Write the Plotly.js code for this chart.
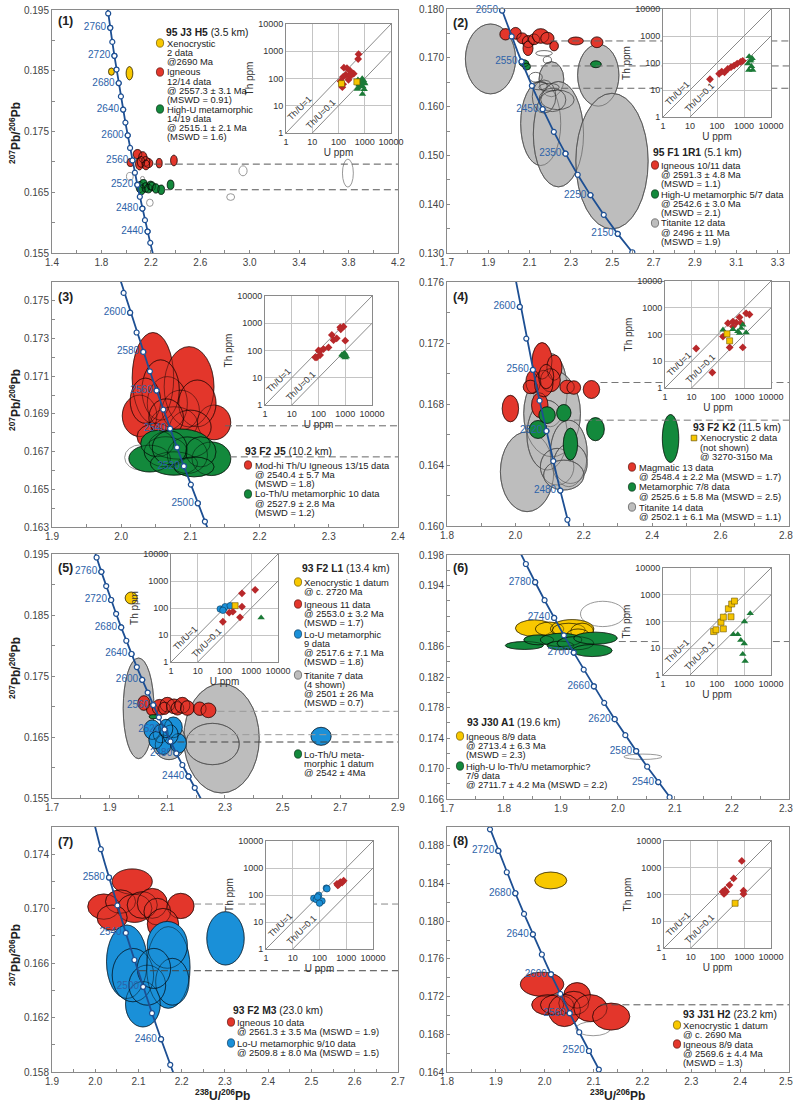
<!DOCTYPE html>
<html>
<head>
<meta charset="utf-8">
<script src="https://cdn.plot.ly/plotly-3.0.1.min.js"></script>
<style>
html,body{margin:0;padding:0;background:#fff;}
#chart{width:794px;height:1103px;}
</style>
</head>
<body>
<div id="chart"></div>
<script>
// ===================== DATA =====================
// Concordia reference points: age (Ma), 238U/206Pb, 207Pb/206Pb
const concAge = [2100,2150,2200,2250,2300,2350,2400,2420,2440,2450,2460,2480,2490,2500,2510,2520,2530,2540,2550,2560,2570,2580,2590,2600,2610,2620,2640,2650,2660,2680,2700,2720,2740,2760,2780,2800,2820];
const concX = [2.5968,2.5261,2.4586,2.3941,2.3325,2.2735,2.2170,2.1951,2.1734,2.1628,2.1522,2.1313,2.1210,2.1108,2.1007,2.0906,2.0807,2.0707,2.0609,2.0512,2.0415,2.0319,2.0223,2.0129,2.0035,1.9942,1.9758,1.9668,1.9577,1.9399,1.9224,1.9051,1.8880,1.8712,1.8547,1.8384,1.8223];
const concY = [0.13015,0.13392,0.13782,0.14186,0.14603,0.15036,0.15483,0.15667,0.15853,0.15947,0.16041,0.16232,0.16329,0.16426,0.16525,0.16623,0.16722,0.16822,0.16923,0.17024,0.17126,0.17229,0.17332,0.17437,0.17542,0.17647,0.17861,0.17969,0.18078,0.18297,0.18520,0.18746,0.18975,0.19207,0.19443,0.19682,0.19924];

// Analyses: [238U/206Pb, 207Pb/206Pb, error half-axis in x, error half-axis in y]
// Panel 1 - 95 J3 H5
const p1Xeno = [[1.881,0.18486,0.024,0.0006],[2.027,0.18459,0.027,0.0011]];
const p1Ign = [[2.035,0.16990,0.027,0.00066],[2.092,0.17127,0.035,0.00077],[2.135,0.17078,0.033,0.0009],[2.108,0.16968,0.032,0.001],[2.181,0.16979,0.035,0.00075],[2.157,0.17007,0.035,0.0008],[2.12,0.1700,0.03,0.0009],[2.16,0.1695,0.03,0.0008],[2.2676,0.16979,0.024,0.00077],[2.3865,0.17023,0.027,0.00088]];
const p1Met = [[2.1108,0.16585,0.03,0.00093],[2.14,0.16640,0.03,0.0007],[2.125,0.16540,0.03,0.0008],[2.157,0.16579,0.027,0.00077],[2.18,0.16560,0.03,0.0007],[2.197,0.16612,0.027,0.0007],[2.21,0.16600,0.027,0.0007],[2.2405,0.16563,0.03,0.00077],[2.2838,0.16541,0.027,0.00077],[2.3595,0.16623,0.027,0.00077]];
const p1Open = [[2.0297,0.16760,0.027,0.00066],[2.1324,0.16727,0.016,0.00033],[2.1919,0.16327,0.027,0.0006],[2.9459,0.16853,0.033,0.00082],[2.8459,0.16421,0.032,0.00055],[3.7946,0.16815,0.044,0.0023]];
const p1Means = [[2.224,0.16963],[2.305,0.16541]];
// Panel 2 - 95 F1 1R1
const p2Tit = [[1.9105,0.16977,0.1215,0.00716],[2.2053,0.16561,0.060,0.0036],[2.432,0.16643,0.100,0.00634],[2.1534,0.15653,0.097,0.0086],[2.2393,0.15435,0.1215,0.0108],[2.4984,0.14883,0.175,0.0139]];
const p2Open = [[2.1696,0.17093,0.04,0.00055],[2.1291,0.16602,0.032,0.001],[2.1453,0.16424,0.04,0.0008],[2.1939,0.16397,0.049,0.0008],[2.2101,0.16138,0.065,0.0024],[2.1696,0.16206,0.057,0.0034],[2.2344,0.16138,0.081,0.002],[2.1858,0.16956,0.02,0.0007]];
const p2Ign = [[1.9834,0.17482,0.0275,0.00116],[2.032,0.17502,0.027,0.0012],[2.0644,0.17400,0.027,0.0011],[2.0935,0.17332,0.029,0.00123],[2.0919,0.17195,0.024,0.0015],[2.121,0.17379,0.027,0.0011],[2.1534,0.17447,0.040,0.0015],[2.1858,0.17400,0.032,0.00123],[2.2182,0.17243,0.021,0.001],[2.3235,0.17345,0.037,0.0008],[2.4255,0.17318,0.029,0.0011]];
const p2Met = [[2.0725,0.16888,0.023,0.0007],[2.0854,0.1682,0.019,0.0007],[2.4206,0.16868,0.026,0.0007]];
const p2Means = [[2.2,0.17345],[2.1,0.16833],[2.2,0.16376]];
// Panel 3 - 93 F2 J5
const p3Ign = [[2.0459,0.17091,0.030,0.00241],[2.0981,0.17044,0.036,0.00213],[2.0266,0.16890,0.025,0.0011],[2.1343,0.16855,0.024,0.00092],[2.0667,0.16956,0.029,0.00142],[2.086,0.16920,0.027,0.00106],[2.0763,0.16849,0.034,0.00089],[2.0498,0.16779,0.027,0.00071],[2.057,0.17027,0.027,0.0016],[2.1101,0.16956,0.027,0.00124],[2.035,0.1697,0.022,0.0012],[2.1,0.1683,0.03,0.0009],[2.065,0.1688,0.025,0.001]];
const p3Open = [[2.028,0.16669,0.023,0.00067]];
const p3Met = [[2.0411,0.16663,0.030,0.00071],[2.1304,0.16662,0.028,0.00089],[2.0845,0.16740,0.044,0.0008],[2.0643,0.16699,0.031,0.0008],[2.0957,0.16681,0.029,0.00097],[2.0763,0.16637,0.034,0.00062],[2.115,0.16699,0.022,0.0008],[2.0522,0.16743,0.024,0.0007],[2.1053,0.16619,0.029,0.00053],[2.07,0.1672,0.025,0.0009]];
const p3Means = [[2.15,0.16837],[2.157,0.16672]];
// Panel 4 - 93 F2 K2
const p4Tit = [[2.1024,0.16891,0.049,0.0024],[2.0341,0.16356,0.078,0.00262],[2.1073,0.16738,0.083,0.00284],[2.0927,0.16596,0.059,0.00229],[2.1561,0.16476,0.054,0.00218],[2.122,0.16389,0.049,0.0012],[2.161,0.16410,0.049,0.00131],[2.1415,0.16334,0.059,0.00098]];
const p4Ign = [[2.078,0.17083,0.029,0.0012],[2.1141,0.17039,0.022,0.00083],[2.0517,0.16945,0.021,0.00076],[2.1024,0.16956,0.029,0.00076],[2.0439,0.16912,0.021,0.00044],[2.1512,0.16912,0.021,0.00044],[2.1707,0.16908,0.02,0.00044],[2.2224,0.16895,0.024,0.00059],[1.9854,0.1677,0.024,0.00087],[2.0712,0.16792,0.024,0.00081],[2.0829,0.16934,0.027,0.00087],[2.09,0.1698,0.022,0.0008]];
const p4Met = [[2.0663,0.16633,0.026,0.00059],[2.0927,0.16727,0.024,0.00055],[2.1415,0.16742,0.021,0.00055],[2.2341,0.16635,0.026,0.00076],[2.161,0.16537,0.021,0.00105],[2.4537,0.16574,0.024,0.00157]];
const p4Means = [[2.2488,0.16941],[2.1707,0.16694]];
// Panel 5 - 93 F2 L1
const p5Tit = [[2.0003,0.1697,0.0533,0.00825],[2.2878,0.16478,0.131,0.00896],[2.2565,0.16385,0.093,0.00339],[2.1058,0.16429,0.058,0.003]];
const p5Xeno = [[1.9748,0.18779,0.021,0.00098]];
const p5Ign = [[2.0188,0.17057,0.021,0.0012],[2.0478,0.16948,0.02,0.001],[2.0733,0.16986,0.026,0.0013],[2.1,0.1703,0.025,0.0012],[2.09,0.1697,0.02,0.001],[2.1232,0.17003,0.026,0.0012],[2.135,0.1697,0.022,0.0011],[2.1522,0.1702,0.026,0.0013],[2.1696,0.16975,0.024,0.0012],[2.2125,0.16964,0.022,0.0011],[2.2426,0.16937,0.026,0.0012]];
const p5LoU = [[2.0478,0.16620,0.029,0.0016],[2.1209,0.16658,0.031,0.0017],[2.0768,0.16555,0.026,0.0015],[2.0861,0.16374,0.028,0.0016],[2.1383,0.16396,0.028,0.0016],[2.1116,0.16538,0.026,0.0016],[2.095,0.1664,0.024,0.0015],[2.06,0.1645,0.024,0.0014],[2.6333,0.16511,0.035,0.00148]];
const p5Met = [[2.0513,0.16833,0.014,0.00033]];
const p5Means = [[2.274,0.16921],[2.1696,0.16538],[2.1348,0.16418]];
// Panel 6 - 93 J30 A1
const p6Open = [[1.9734,0.19027,0.0392,0.00166],[2.0437,0.17154,0.0334,0.00035]];
const p6Ign = [[1.8534,0.18840,0.0334,0.00109],[1.88,0.1883,0.025,0.0009],[1.9196,0.18831,0.038,0.00122],[1.9137,0.18818,0.029,0.00087],[1.9371,0.18796,0.02,0.0011],[1.93,0.1875,0.02,0.0008],[1.9225,0.18665,0.0117,0.00044]];
const p6Met = [[1.8358,0.18613,0.0334,0.00052],[1.861,0.18687,0.0263,0.00065],[1.9002,0.18687,0.0363,0.00087],[1.8991,0.18613,0.0234,0.00057],[1.9254,0.18643,0.0322,0.00087],[1.9605,0.18709,0.038,0.00079],[1.9547,0.18547,0.0351,0.00079]];
const p6Means = [[2.0015,0.18665]];
// Panel 7 - 93 F2 M3
const p7Ign = [[2.0855,0.17199,0.0464,0.00093],[2.0198,0.17015,0.0371,0.00093],[2.0585,0.17052,0.0348,0.00086],[2.0909,0.17002,0.0402,0.00103],[2.1087,0.17027,0.0348,0.00098],[2.1319,0.17039,0.0348,0.0011],[2.1976,0.17020,0.0309,0.00093],[2.0391,0.16934,0.0348,0.00093],[2.1435,0.16978,0.0309,0.00098],[2.1566,0.16887,0.0363,0.00115]];
const p7LoU = [[2.0731,0.16610,0.0471,0.0027],[2.169,0.16568,0.0502,0.003],[2.1102,0.16298,0.0402,0.00167],[2.0871,0.16512,0.0479,0.00196],[2.1667,0.16734,0.0464,0.00172],[2.1783,0.16463,0.0386,0.00172],[2.1203,0.16438,0.0425,0.00147],[2.1357,0.16561,0.0386,0.00147],[2.3012,0.16782,0.0433,0.00196]];
const p7Means = [[2.2285,0.17034],[2.101,0.16544]];
// Panel 8 - 93 J31 H2
const p8Open = [[2.0991,0.16860,0.0355,0.00075]];
const p8Xeno = [[2.0124,0.18433,0.0328,0.00089]];
const p8Ign = [[1.9946,0.17331,0.0444,0.00128],[2.0663,0.17213,0.0273,0.00136],[2.0062,0.17113,0.0328,0.00107],[2.0254,0.17113,0.0341,0.00107],[2.0595,0.17131,0.0307,0.00125],[2.0404,0.17053,0.0328,0.00171],[2.0937,0.17078,0.0341,0.00143],[2.136,0.16988,0.0382,0.00143]];
const p8Means = [[2.1141,0.17113]];

// Inset Th vs U (ppm)
const p1InsIgU = [580,560,160,210,280,380,250,190,150,240,150,140,300,120];
const p1InsIgTh = [780,520,250,240,190,150,135,135,115,90,62,48,130,80];
const p1InsXeU = [130,500];
const p1InsXeTh = [65,75];
const p1InsMetU = [550,650,800,900,700,600,950,750,850,1000,550,950,815,520];
const p1InsMetTh = [90,80,100,85,70,60,70,55,50,65,45,40,27,41];
const p2InsIgU = [55,120,150,190,250,330,430,560,750,900];
const p2InsIgTh = [25,40,48,45,60,70,80,95,110,120];
const p2InsMetU = [1550,2000,1400,1900,1500,2100,1700,1800];
const p2InsMetTh = [175,150,95,75,55,55,120,130];
const p3InsIgU = [650,860,680,1000,316,365,480,237,154,115,115,87,100,75];
const p3InsIgTh = [708,750,600,230,370,240,280,130,113,95,68,56,100,56];
const p3InsMetU = [750,850,900,1000,950,800,1100,1000];
const p3InsMetTh = [70,75,60,55,80,65,60,70];
const p4InsIgU = [15,61,154,237,366,490,650,750,1540,1150,275,860,366];
const p4InsIgTh = [30,3.8,84,265,305,280,440,265,560,620,33,33,200];
const p4InsMetU = [154,366,750,860,560,650,1150];
const p4InsMetTh = [150,157,172,230,130,112,118];
const p4InsXeU = [218,275];
const p4InsXeTh = [106,58];
const p5InsLoU = [69,92,106,163,87];
const p5InsLoTh = [92,92,112,122,82];
const p5InsXeU = [250];
const p5InsXeTh = [122];
const p5InsIgU = [150,205,87,450,450,380,1400];
const p5InsIgTh = [67,73,31,350,112,45,470];
const p5InsMetU = [2340];
const p5InsMetTh = [44];
const p6InsIgU = [75,92,141,172,172,330,264,350,443];
const p6InsIgTh = [42,49,94,145,53,150,300,450,580];
const p6InsMetU = [405,590,760,1020,900,1100,1040,1700];
const p6InsMetTh = [33,33,20,15,6,3.3,100,200];
const p7InsLoU = [61,76,93,114,124,100,180,190,85];
const p7InsLoTh = [75,68,98,59,60,50,180,170,85];
const p7InsIgU = [450,520,600,700,800,480];
const p7InsIgTh = [260,240,300,290,340,230];
const p8InsIgU = [810,400,280,190,155,175,935,935,210];
const p8InsIgTh = [1800,400,225,147,127,105,138,105,127];
const p8InsXeU = [455];
const p8InsXeTh = [47];

// Legend texts
const sampleNames = [['95 J3 H5','(3.5 km)'],['95 F1 1R1','(5.1 km)'],['93 F2 J5','(10.2 km)'],['93 F2 K2','(11.5 km)'],['93 F2 L1','(13.4 km)'],['93 J30 A1','(19.6 km)'],['93 F2 M3','(23.0 km)'],['93 J31 H2','(23.2 km)']];
const legendItems = [
  [['yellow',['Xenocrystic','2 data','@2690 Ma']],['red',['Igneous','12/14 data','@ 2557.3 ± 3.1 Ma','(MSWD = 0.91)']],['green',['High-U metamorphic','14/19 data','@ 2515.1 ± 2.1 Ma','(MSWD = 1.6)']]],
  [['red',['Igneous 10/11 data','@ 2591.3 ± 4.8 Ma','(MSWD = 1.1)']],['green',['High-U metamorphic 5/7 data','@ 2542.6 ± 3.0 Ma','(MSWD = 2.1)']],['gray',['Titanite 12 data','@ 2496 ± 11 Ma','(MSWD = 1.9)']]],
  [['red',['Mod-hi Th/U Igneous 13/15 data','@ 2540.4 ± 5.7 Ma','(MSWD = 1.8)']],['green',['Lo-Th/U metamorphic 10 data','@ 2527.9 ± 2.8 Ma','(MSWD = 1.2)']]],
  [['yellowSq',['Xenocrystic 2 data','(not shown)','@ 3270-3150 Ma']],['red',['Magmatic 13 data','@ 2548.4 ± 2.2 Ma (MSWD = 1.7)']],['green',['Metamorphic 7/8 data','@ 2525.6 ± 5.8 Ma (MSWD = 2.5)']],['gray',['Titanite 14 data','@ 2502.1 ± 6.1 Ma (MSWD = 1.1)']]],
  [['yellow',['Xenocrystic 1 datum','@ c. 2720 Ma']],['red',['Igneous 11 data','@ 2553.0 ± 3.2 Ma','(MSWD = 1.7)']],['blue',['Lo-U metamorphic','9 data','@ 2517.6 ± 7.1 Ma','(MSWD = 1.8)']],['gray',['Titanite 7 data','(4 shown)','@ 2501 ± 26 Ma','(MSWD = 0.7)']],['green',['Lo-Th/U meta-','morphic 1 datum','@ 2542 ± 4Ma']]],
  [['yellow',['Igneous 8/9 data','@ 2713.4 ± 6.3 Ma','(MSWD = 2.3)']],['green',['High-U lo-Th/U metamorphic?','7/9 data','@ 2711.7 ± 4.2 Ma (MSWD = 2.2)']]],
  [['red',['Igneous 10 data','@ 2561.3 ± 3.5 Ma (MSWD = 1.9)']],['blue',['Lo-U metamorphic 9/10 data','@ 2509.8 ± 8.0 Ma (MSWD = 1.5)']]],
  [['yellow',['Xenocrystic 1 datum','@ c. 2690 Ma']],['red',['Igneous 8/9 data','@ 2569.6 ± 4.4 Ma','(MSWD = 1.3)']]]
];

// ===================== STYLE / LAYOUT =====================
const W = 794, H = 1103;
const FONT = 'Arial, "Liberation Sans", Helvetica, sans-serif';
const BLUE = '#1d4f93', LBLUE = '#2d63a9';
const px = v => v / W, py = v => 1 - v / H;

const STY = {
  gray:    {fill:'#bdbdbd', line:'#505050', w:0.8, pass:'#505050'},
  red:     {fill:'#e3362b', line:'#5a120c', w:0.6, pass:'rgba(0,0,0,0.75)'},
  green:   {fill:'#13893c', line:'#0a3018', w:0.6, pass:'rgba(0,0,0,0.75)'},
  yellow:  {fill:'#f8c800', line:'#6b5500', w:0.6, pass:'rgba(0,0,0,0.7)'},
  blue:    {fill:'#1a90d8', line:'#0b3a5e', w:0.6, pass:'rgba(0,0,0,0.75)'},
  open:    {fill:'rgba(255,255,255,0)', line:'#8c8c8c', w:0.9, pass:null},
  openDark:{fill:'rgba(255,255,255,0)', line:'#333333', w:0.7, pass:null}
};

const panelBoxes = [[52,10,398,253],[447,9,789,253],[52,282,398,527],[447,282,789,526],[52,554,398,798],[447,555,789,799],[52,827,398,1072],[447,827,789,1072]];
const insetBoxes = [[286,24,391,133],[663,9,771,117],[265,296,372,405],[665,281,771,388],[171,554,278,662],[663,568,771,675],[266,841,373,949],[664,841,771,948]];
const axCfg = [
  {xr:[1.4,4.2001],  xd:0.4, xm:0.2,  yr:[0.155,0.195], yd:0.01,  ym:0.005},
  {xr:[1.7,3.355],   xd:0.2, xm:0.1,  yr:[0.130,0.180], yd:0.01,  ym:0.005},
  {xr:[1.9,2.4001],  xd:0.1, xm:0.05, yr:[0.163,0.176], yd:0.002, ym:0.001},
  {xr:[1.8,2.8001],  xd:0.2, xm:0.1,  yr:[0.160,0.176], yd:0.004, ym:0.002, edge:'2.8'},
  {xr:[1.7,2.9001],  xd:0.2, xm:0.1,  yr:[0.155,0.195], yd:0.01,  ym:0.005},
  {xr:[1.7,2.3001],  xd:0.1, xm:0.05, yr:[0.166,0.198], yd:0.004, ym:0.002, edge:'2.3', yvals:[0.166,0.170,0.174,0.178,0.182,0.186,0.194,0.198]},
  {xr:[1.9,2.7001],  xd:0.1, xm:0.05, yr:[0.158,0.176], yd:0.004, ym:0.002},
  {xr:[1.8,2.5001],  xd:0.1, xm:0.05, yr:[0.164,0.190], yd:0.004, ym:0.002, edge:'2.5'}
];
const concCfg = [
  {step:20,lab:40,ph:0},{step:50,lab:100,ph:50},{step:10,lab:20,ph:0},{step:20,lab:40,ph:0},
  {step:20,lab:40,ph:0},{step:20,lab:40,ph:20},{step:20,lab:40,ph:20},{step:20,lab:40,ph:0}
];
const groups = [
  [[p1Open,'open'],[p1Xeno,'yellow'],[p1Ign,'red'],[p1Met,'green']],
  [[p2Tit,'gray'],[p2Open,'openDark'],[p2Ign,'red'],[p2Met,'green']],
  [[p3Ign,'red'],[p3Open,'open'],[p3Met,'green']],
  [[p4Tit,'gray'],[p4Ign,'red'],[p4Met,'green']],
  [[p5Tit,'gray'],[p5Xeno,'yellow'],[p5Ign,'red'],[p5LoU,'blue'],[p5Met,'green']],
  [[p6Open,'open'],[p6Ign,'yellow'],[p6Met,'green']],
  [[p7Ign,'red'],[p7LoU,'blue']],
  [[p8Open,'open'],[p8Xeno,'yellow'],[p8Ign,'red']]
];
const means = [p1Means,p2Means,p3Means,p4Means,p5Means,p6Means,p7Means,p8Means];
const dashCol = [['#555','#555'],['#666','#666','#666'],['#666','#666'],['#777','#777'],['#9a9a9a','#9a9a9a','#444'],['#777'],['#888','#444'],['#555']];

const MK = {
  dia:{symbol:'diamond', size:6, color:'#b8282a'},
  tri:{symbol:'triangle-up', size:6.5, color:'#1b7a37'},
  sq:{symbol:'square', size:6, color:'#f5c400', line:{color:'#6b5500', width:0.6}},
  cir:{symbol:'circle', size:6.5, color:'#1a8fd6', line:{color:'#0b3a5e', width:0.6}}
};
const insetSeries = [
  [[p1InsIgU,p1InsIgTh,'dia'],[p1InsMetU,p1InsMetTh,'tri'],[p1InsXeU,p1InsXeTh,'sq']],
  [[p2InsIgU,p2InsIgTh,'dia'],[p2InsMetU,p2InsMetTh,'tri']],
  [[p3InsIgU,p3InsIgTh,'dia'],[p3InsMetU,p3InsMetTh,'tri']],
  [[p4InsIgU,p4InsIgTh,'dia'],[p4InsMetU,p4InsMetTh,'tri'],[p4InsXeU,p4InsXeTh,'sq']],
  [[p5InsIgU,p5InsIgTh,'dia'],[p5InsMetU,p5InsMetTh,'tri'],[p5InsLoU,p5InsLoTh,'cir'],[p5InsXeU,p5InsXeTh,'sq']],
  [[p6InsIgU,p6InsIgTh,'sq'],[p6InsMetU,p6InsMetTh,'tri']],
  [[p7InsIgU,p7InsIgTh,'dia'],[p7InsLoU,p7InsLoTh,'cir']],
  [[p8InsIgU,p8InsIgTh,'dia'],[p8InsXeU,p8InsXeTh,'sq']]
];

const legendPos = [
  {tx:165, ty:32,   lh:9.3, it:[[160,166,43],[160,166,72],[160,166,109]]},
  {tx:652, ty:153,  lh:9.3, it:[[655,660,165],[655,660,194],[655,660,223]]},
  {tx:244, ty:451,  lh:9.3, it:[[248,254,465],[248,254,494]]},
  {tx:692, ty:427,  lh:9.3, it:[[694,699,438],[632,638,467],[632,638,487],[632,638,507]]},
  {tx:301, ty:568,  lh:9.3, it:[[298,303,582],[298,303,604],[298,303,634],[298,303,675],[298,303,754]]},
  {tx:466, ty:722,  lh:9.3, it:[[460,465,736],[460,465,766]]},
  {tx:232, ty:1010, lh:9.3, it:[[231,236,1022],[231,236,1043]]},
  {tx:682, ty:1014, lh:9.3, it:[[677,682,1025],[677,682,1044]]}
];
const panelLabelPos = [[57,21],[452,23],[57,297],[452,297],[57,568],[452,568],[57,842],[452,841]];

const data = [], shapes = [], annotations = [];
const layout = {
  width:W, height:H, margin:{l:0,r:0,t:0,b:0},
  paper_bgcolor:'#ffffff', plot_bgcolor:'#ffffff', showlegend:false,
  font:{family:FONT, size:10, color:'#333'}
};

const mainAx = {
  showline:true, mirror:true, linecolor:'#8a8a8a', linewidth:1,
  ticks:'inside', ticklen:3, tickcolor:'#8a8a8a', tickwidth:1,
  showgrid:false, zeroline:false, fixedrange:true,
  tickfont:{family:FONT, size:10, color:'#444'}
};
const minorAx = {ticks:'inside', ticklen:3, tickcolor:'#8a8a8a', showgrid:false};

function ellShape(xa, ya, e, fill, line, w) {
  return {type:'circle', xref:xa, yref:ya, layer:'below',
    x0:e[0]-e[2], x1:e[0]+e[2], y0:e[1]-e[3], y1:e[1]+e[3],
    fillcolor:fill, line:{color:line, width:w}};
}
function note(x, y, text, size, extra) {
  return Object.assign({xref:'paper', yref:'paper', x:px(x), y:py(y), xanchor:'left', yanchor:'middle',
    showarrow:false, borderpad:0, text:text, font:{family:FONT, size:size, color:'#222'}}, extra || {});
}

for (let i = 0; i < 8; i++) {
  const n = i + 1, sfx = n === 1 ? '' : String(n);
  const xa = 'x' + sfx, ya = 'y' + sfx;
  const b = panelBoxes[i], c = axCfg[i];

  layout['xaxis' + sfx] = Object.assign({}, mainAx, {
    domain:[px(b[0]), px(b[2])], range:c.xr, anchor:ya,
    tickmode:'linear', tick0:c.xr[0], dtick:c.xd, tickformat:'.1f',
    minor:Object.assign({}, minorAx, {tickmode:'linear', tick0:c.xr[0], dtick:c.xm})
  });
  const yax = Object.assign({}, mainAx, {
    domain:[py(b[3]), py(b[1])], range:c.yr, anchor:xa, tickformat:'.3f',
    minor:Object.assign({}, minorAx, {tickmode:'linear', tick0:c.yr[0], dtick:c.ym})
  });
  if (c.yvals) { yax.tickmode = 'array'; yax.tickvals = c.yvals; yax.ticktext = c.yvals.map(v => v.toFixed(3)); }
  else { yax.tickmode = 'linear'; yax.tick0 = c.yr[0]; yax.dtick = c.yd; }
  layout['yaxis' + sfx] = yax;
  // last x label at the page edge (the default one is hidden past the page), kept inside the page
  if (c.edge) annotations.push(note(W, b[3] + 9, c.edge, 10, {xanchor:'right', font:{family:FONT, size:10, color:'#444'}}));

  groups[i].forEach(([arr, key]) => {
    const s = STY[key];
    arr.forEach(e => shapes.push(ellShape(xa, ya, e, s.fill, s.line, s.w)));
    if (s.pass) arr.forEach(e => shapes.push(ellShape(xa, ya, e, 'rgba(0,0,0,0)', s.pass, 0.6)));
  });
  means[i].forEach((m, k) => shapes.push({type:'line', xref:xa, yref:ya, layer:'below',
    x0:m[0], x1:c.xr[1], y0:m[1], y1:m[1], line:{color:dashCol[i][k], width:1, dash:'7px,4px'}}));

  const cc = concCfg[i];
  data.push({type:'scatter', mode:'lines', x:concX, y:concY, xaxis:xa, yaxis:ya,
    line:{color:BLUE, width:1.8}, hoverinfo:'skip'});
  const mi = concAge.map((a, k) => k).filter(k => concAge[k] % cc.step === 0);
  data.push({type:'scatter', mode:'markers', x:mi.map(k => concX[k]), y:mi.map(k => concY[k]),
    xaxis:xa, yaxis:ya, cliponaxis:true, hoverinfo:'skip',
    marker:{size:5, color:'#fff', line:{color:BLUE, width:1.2}}});
  const li = mi.filter(k => (concAge[k] - cc.ph) % cc.lab === 0 &&
    concY[k] >= c.yr[0] && concY[k] <= c.yr[1] && concX[k] >= c.xr[0] && concX[k] <= c.xr[1]);
  data.push({type:'scatter', mode:'markers+text', x:li.map(k => concX[k]), y:li.map(k => concY[k]),
    text:li.map(k => String(concAge[k])), textposition:'middle left',
    textfont:{family:FONT, size:10, color:LBLUE}, xaxis:xa, yaxis:ya, cliponaxis:false, hoverinfo:'skip',
    marker:{size:5, color:'#fff', line:{color:BLUE, width:1.2}}});

  annotations.push(note(panelLabelPos[i][0], panelLabelPos[i][1], '<b>(' + n + ')</b>', 12.5));

  const lp = legendPos[i];
  annotations.push(note(lp.tx, lp.ty, '<b>' + sampleNames[i][0] + '</b> ' + sampleNames[i][1], 10.3));
  legendItems[i].forEach(([key, lines], k) => {
    const [mx, lx, ly] = lp.it[k];
    const sq = key === 'yellowSq';
    const s = STY[sq ? 'yellow' : key];
    shapes.push({type:sq ? 'rect' : 'circle', xref:'paper', yref:'paper', layer:'above',
      xsizemode:'pixel', ysizemode:'pixel', xanchor:px(mx), yanchor:py(ly),
      x0:sq ? -2.8 : -3.6, x1:sq ? 2.8 : 3.6, y0:sq ? -2.8 : -4.2, y1:sq ? 2.8 : 4.2,
      fillcolor:s.fill, line:{color:s.line, width:0.7}});
    lines.forEach((t, j) => annotations.push(note(lx, ly + j * lp.lh, t, 9.4)));
  });
}

for (let i = 0; i < 8; i++) {
  const n = i + 9, xa = 'x' + n, ya = 'y' + n;
  const b = insetBoxes[i];
  const insAx = {type:'log', range:[0,4], tickmode:'array', tickvals:[1,10,100,1000,10000],
    ticktext:['1','10','100','1000','10000'], showgrid:true, gridcolor:'#c4c4c4', gridwidth:1,
    showline:true, mirror:true, linecolor:'#8a8a8a', linewidth:1, ticks:'', zeroline:false,
    fixedrange:true, tickfont:{family:FONT, size:9, color:'#333'}};
  layout['xaxis' + n] = Object.assign({}, insAx, {domain:[px(b[0]), px(b[2])], anchor:ya,
    title:{text:'U ppm', font:{family:FONT, size:10, color:'#333'}, standoff:2}});
  layout['yaxis' + n] = Object.assign({}, insAx, {domain:[py(b[3]), py(b[1])], anchor:xa,
    title:{text:'Th ppm', font:{family:FONT, size:10, color:'#333'}, standoff:2}});
  data.push({type:'scatter', mode:'lines', x:[1,10000], y:[1,10000], xaxis:xa, yaxis:ya,
    line:{color:'#8a8a8a', width:1}, hoverinfo:'skip'});
  data.push({type:'scatter', mode:'lines', x:[10,10000], y:[1,1000], xaxis:xa, yaxis:ya,
    line:{color:'#8a8a8a', width:1}, hoverinfo:'skip'});
  insetSeries[i].forEach(([u, th, m]) => data.push({type:'scatter', mode:'markers', x:u, y:th,
    xaxis:xa, yaxis:ya, marker:MK[m], hoverinfo:'skip'}));
  annotations.push({xref:xa, yref:ya, x:0.72, y:0.72, xshift:-5, yshift:5, textangle:-45,
    showarrow:false, borderpad:0, text:'Th/U=1', font:{family:FONT, size:9, color:'#333'}});
  annotations.push({xref:xa, yref:ya, x:1.52, y:0.52, xshift:-5, yshift:5, textangle:-45,
    showarrow:false, borderpad:0, text:'Th/U=0.1', font:{family:FONT, size:9, color:'#333'}});
}

[133, 400, 668, 955].forEach(yy => annotations.push(note(15, yy,
  '<b><sup>207</sup>Pb/<sup>206</sup>Pb</b>', 12, {xanchor:'center', textangle:-90})));
[[222,1095],[617,1095]].forEach(p => annotations.push(note(p[0], p[1],
  '<b><sup>238</sup>U/<sup>206</sup>Pb</b>', 12, {xanchor:'center'})));

layout.shapes = shapes;
layout.annotations = annotations;

Plotly.newPlot('chart', data, layout, {staticPlot:true, displayModeBar:false});
</script>
</body>
</html>
